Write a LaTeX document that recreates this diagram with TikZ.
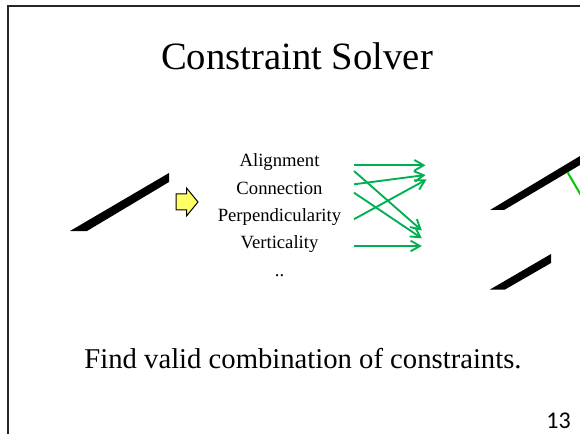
\documentclass[tikz,border=0pt]{standalone}
\usepackage{fontspec}
\setmainfont{Liberation Serif}
\newfontfamily\pagefont{Carlito}
\usetikzlibrary{arrows.meta}
\definecolor{pickgreen}{RGB}{0,176,80}
\definecolor{limegreen}{RGB}{0,200,0}
\definecolor{hintyellow}{RGB}{255,255,102}
\tikzset{
  slide/.style={draw=black!85, line width=1.5pt},
  titletext/.style={font=\fontsize{29}{34}\selectfont, anchor=base, inner sep=0pt},
  bodytext/.style={font=\fontsize{21.5}{26}\selectfont, anchor=base, inner sep=0pt},
  constr/.style={font=\fontsize{14}{17}\selectfont, anchor=base, inner sep=0pt},
  pagenum/.style={font=\pagefont\fontsize{18}{21}\selectfont, anchor=base, inner sep=0pt},
  pick/.style={draw=pickgreen, line width=1.4pt, -{Straight Barb[length=7pt,width=8pt]}},
  bar/.style={fill=black},
  hint/.style={draw=black, line width=0.75pt, fill=hintyellow, line join=miter}
}

\begin{document}
\begin{tikzpicture}[x=0.75pt, y=-0.75pt]
  \useasboundingbox (0,0) rectangle (580,434);
  \clip (0,0) rectangle (580,434);
  \draw[slide] (7.8,6.2) rectangle (600,450);

  \node[titletext] (title) at (297,70) {Constraint Solver};

  % sketch before
  \fill[bar] (70,231) -- (87,231) -- (169,182) -- (169,173) -- cycle;
  \draw[hint] (176,194) -- (186.5,194) -- (186.5,188) -- (198,202)
    -- (186.5,216) -- (186.5,210) -- (176,210) -- cycle;

  \node[constr] (align) at (279.5,166.7) {Alignment};
  \node[constr] (conn) at (279.5,194.3) {Connection};
  \node[constr] (perp) at (279.5,221.7) {Perpendicularity};
  \node[constr] (vert) at (279.5,248.3) {Verticality};
  \node[constr] (more) at (279.5,276.7) {..};

  \coordinate (s1) at (354,165.3);
  \coordinate (s2) at (354,171);
  \coordinate (s3) at (354,184.3);
  \coordinate (s4) at (354,192.7);
  \coordinate (s5) at (354,219.2);
  \coordinate (s6) at (354,246);
  \coordinate (e1) at (425.5,165.3);
  \coordinate (e2) at (421.8,230.5);
  \coordinate (e3) at (425.5,175);
  \coordinate (e4) at (421.8,238.3);
  \coordinate (e5) at (426.5,179.5);
  \coordinate (e6) at (421.8,246);
  \draw[pick] (s1) -- (e1);
  \draw[pick] (s2) -- (e2);
  \draw[pick] (s3) -- (e3);
  \draw[pick] (s4) -- (e4);
  \draw[pick] (s5) -- (e5);
  \draw[pick] (s6) -- (e6);

  % sketch after
  \fill[bar] (490,210) -- (504,210) -- (580,165) -- (580,156) -- cycle;
  \draw[limegreen, line width=1.5pt] (567.5,172.2) -- (582,197);
  \fill[bar] (490,289.5) -- (505,289.5) -- (551,263) -- (551,254) -- cycle;

  \node[bodytext] (goal) at (303,368) {Find valid combination of constraints.};
  \node[pagenum] (num) at (558.5,428) {13};
\end{tikzpicture}
\end{document}
